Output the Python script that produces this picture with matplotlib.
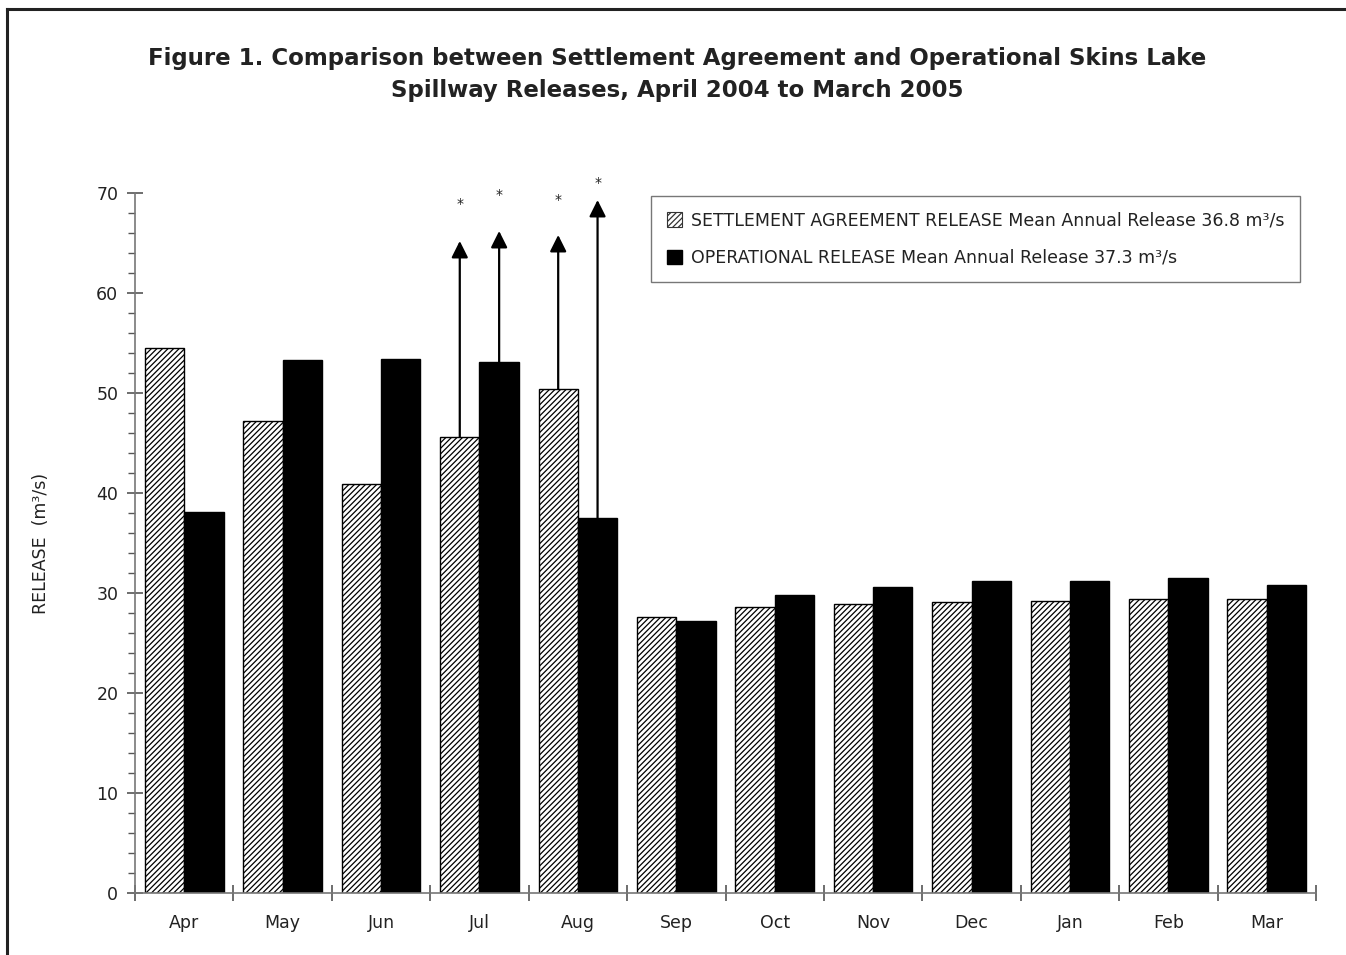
import matplotlib
matplotlib.use("Agg")
import matplotlib.pyplot as plt
import numpy as np
from matplotlib.patches import Patch
from matplotlib.lines import Line2D
from matplotlib.ticker import MultipleLocator, FixedLocator, NullFormatter

plt.rcParams['font.family'] = ['DejaVu Sans']
plt.rcParams['hatch.linewidth'] = 0.9

months = ['Apr', 'May', 'Jun', 'Jul', 'Aug', 'Sep', 'Oct', 'Nov', 'Dec', 'Jan', 'Feb', 'Mar']
settlement = [54.5, 47.2, 40.9, 45.6, 50.4, 27.6, 28.6, 28.9, 29.1, 29.2, 29.4, 29.4]
operational = [38.1, 53.3, 53.4, 53.1, 37.5, 27.2, 29.8, 30.6, 31.2, 31.2, 31.5, 30.8]

# exceedance arrows: (month index, series, arrow tip value, star value, star label)
arrow_month = [3, 3, 4, 4]
arrow_series = ['settlement', 'operational', 'settlement', 'operational']
arrow_tip = [65.2, 66.2, 65.8, 69.3]
star_value = [68.9, 69.8, 69.3, 71.0]
star_label = ['*', '*', '*', '*']

label_settle = 'SETTLEMENT AGREEMENT RELEASE Mean Annual Release 36.8 m\u00b3/s'
label_oper = 'OPERATIONAL RELEASE Mean Annual Release 37.3 m\u00b3/s'

fig = plt.figure(figsize=(13.46, 9.55), dpi=100)
ax = fig.add_axes([135/1346, 1-893/955, (1316-135)/1346, 700/955])

x = np.arange(len(months))
w = 0.4
ax.bar(x + 0.3, settlement, width=w, facecolor='white', edgecolor='black',
       hatch='//////', linewidth=1.0, zorder=2)
ax.bar(x + 0.7, operational, width=w, facecolor='black', edgecolor='black',
       linewidth=1.0, zorder=2)

for m, s, tip, sv, sl in zip(arrow_month, arrow_series, arrow_tip, star_value, star_label):
    if s == 'settlement':
        xp = m + 0.3
        base = settlement[m]
    else:
        xp = m + 0.7
        base = operational[m]
    ax.annotate('', xy=(xp, tip), xytext=(xp, base),
                arrowprops=dict(arrowstyle='-|>,head_width=0.5,head_length=1.0',
                                color='black', lw=1.6, shrinkA=0, shrinkB=0),
                annotation_clip=False, zorder=3)
    ax.text(xp, sv, sl, ha='center', va='center', fontsize=10, color='#222222',
            clip_on=False)

ax.set_xlim(0, 12)
ax.set_ylim(0, 70)
for sp in ['top', 'right']:
    ax.spines[sp].set_visible(False)
for sp in ['left', 'bottom']:
    ax.spines[sp].set_color('#777777')
    ax.spines[sp].set_linewidth(1.2)

ax.yaxis.set_major_locator(MultipleLocator(10))
ax.yaxis.set_minor_locator(MultipleLocator(2))
ax.tick_params(axis='y', which='major', direction='inout', length=12, width=1.2,
               color='#555555', labelsize=12.5, labelcolor='#222222', pad=6)
ax.tick_params(axis='y', which='minor', direction='out', length=5, width=1.0,
               color='#555555')

ax.xaxis.set_major_locator(FixedLocator(np.arange(0, 13)))
ax.xaxis.set_major_formatter(NullFormatter())
ax.xaxis.set_minor_locator(FixedLocator(x + 0.5))
ax.set_xticklabels(months, minor=True)
ax.tick_params(axis='x', which='major', direction='inout', length=12, width=1.2,
               color='#555555')
ax.tick_params(axis='x', which='minor', length=0, labelsize=12.5,
               labelcolor='#222222', pad=15)

ax.set_ylabel('RELEASE  (m\u00b3/s)', fontsize=12.5, color='#222222')
ax.yaxis.set_label_coords(-0.072, 0.5)

handles = [Patch(facecolor='white', edgecolor='#333333', hatch='//////', linewidth=0.8),
           Patch(facecolor='black', edgecolor='black')]
leg = ax.legend(handles, [label_settle, label_oper], loc='upper right',
                bbox_to_anchor=((1300-135)/1181, (893-196)/700),
                fontsize=12.5, frameon=True, fancybox=False, handlelength=0.9,
                handleheight=0.9, handletextpad=0.5, labelspacing=1.1,
                borderpad=0.9, borderaxespad=0)
leg.get_frame().set_edgecolor('#555555')
leg.get_frame().set_linewidth(1.0)
for t in leg.get_texts():
    t.set_color('#222222')

fig.text(0.503, 1-58/955, 'Figure 1. Comparison between Settlement Agreement and Operational Skins Lake',
         ha='center', va='center', fontsize=16.5, fontweight='bold', color='#222222')
fig.text(0.503, 1-90/955, 'Spillway Releases, April 2004 to March 2005',
         ha='center', va='center', fontsize=16.5, fontweight='bold', color='#222222')

# figure border (left and top)
fig.add_artist(Line2D([7/1346, 7/1346], [0, 1-9/955], transform=fig.transFigure,
                      color='#222222', lw=2.2))
fig.add_artist(Line2D([7/1346, 1], [1-9/955, 1-9/955], transform=fig.transFigure,
                      color='#222222', lw=2.2))

fig.savefig('out.png', dpi=100)
